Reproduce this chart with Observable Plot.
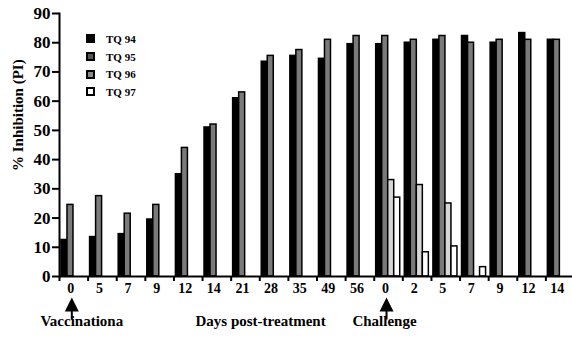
<!DOCTYPE html>
<html><head><meta charset="utf-8">
<script src="https://cdn.jsdelivr.net/npm/d3@7"></script>
<script src="https://cdn.jsdelivr.net/npm/@observablehq/plot@0.6"></script>
<style>
body{margin:0;background:#fff;}
#wrap{position:relative;width:572px;height:339px;overflow:hidden;font-family:"Liberation Serif","DejaVu Serif","Times New Roman",serif;font-weight:bold;color:#000;}
#wrap svg, #wrap svg text{font-family:"Liberation Serif","DejaVu Serif","Times New Roman",serif;}
#legend{position:absolute;left:86px;top:30px;}
.item{display:flex;align-items:center;height:17.7px;font-size:11px;}
.sw{width:9px;height:9px;box-sizing:border-box;border:2px solid #000;margin-right:11px;}
</style></head><body><div id="wrap"></div>
<script>
const series = ["TQ 94", "TQ 95", "TQ 96", "TQ 97"];
const dayLabels = ["0","5","7","9","12","14","21","28","35","49","56","0","2","5","7","9","12","14"];
const tq94 = [12.5, 13.5, 14.5, 19.5, 35, 51, 61, 73.5, 75.5, 74.5, 79.5, 79.5, 80, 81, 82.3, 80, 83.3, 81];
const tq95 = [24.5, 27.5, 21.5, 24.5, 44, 52, 63, 75.5, 77.5, 81, 82.3, 82.3, 81, 82.3, 80, 81, 81, 81];
const tq96 = [null, null, null, null, null, null, null, null, null, null, null, 33, 31.3, 25, null, null, null, null];
const tq97 = [null, null, null, null, null, null, null, null, null, null, null, 27, 8.3, 10.3, 3.2, null, null, null];
const seriesColors = ["#000000", "#7a7a7a", "#d6d6d6", "#ffffff"];
const legendColors = ["#000000", "#555555", "#8a8a8a", "#ffffff"];
const yTicks = [0, 10, 20, 30, 40, 50, 60, 70, 80, 90];
const yTitle = "% Inhibition (PI)";
const vaccinationGroup = 0, vaccinationText = "Vaccinationa";
const challengeGroup = 11, challengeText = "Challenge";
const daysGroup = 7, daysText = "Days post-treatment";

const values = [tq94, tq95, tq96, tq97];
const rows = [];
dayLabels.forEach((d, g) => series.forEach((s, k) => {
  const v = values[k][g];
  if (v != null) rows.push({g, series: s, value: v});
}));

const W = 572, H = 339, mL = 59, mR = -2, mT = 13, mB = 63;
const step = (W - mL - mR) / dayLabels.length;
const FONT = "'Liberation Serif', 'DejaVu Serif', 'Times New Roman', serif";

const arrowSymbol = {
  draw(ctx) {
    ctx.moveTo(0, -7);
    ctx.lineTo(7, 7);
    ctx.lineTo(1, 7);
    ctx.lineTo(1, 15);
    ctx.lineTo(-1, 15);
    ctx.lineTo(-1, 7);
    ctx.lineTo(-7, 7);
    ctx.closePath();
  }
};

const chart = Plot.plot({
  width: W, height: H,
  marginLeft: mL, marginRight: mR, marginTop: mT, marginBottom: mB,
  style: {fontFamily: FONT, fontWeight: "bold", color: "#000", background: "#fff", overflow: "visible"},
  fx: {domain: d3.range(dayLabels.length), paddingInner: 0, paddingOuter: 0, round: false, label: null},
  x: {domain: series, paddingInner: 0, paddingOuter: 0.38, align: 0.43, round: false, axis: null},
  y: {domain: [0, 90], label: null},
  color: {domain: series, range: seriesColors},
  marks: [
    Plot.barY(rows, {fx: "g", x: "series", y: "value", fill: "series", stroke: "#000", strokeWidth: 1.5}),
    Plot.ruleY([0], {strokeWidth: 2}),
    Plot.axisY({ticks: yTicks, tickSize: 7, tickPadding: 2, fontSize: 17, fontFamily: FONT, strokeWidth: 2, label: null}),
    Plot.axisFx({anchor: "bottom", tickSize: 0, tickPadding: 7, fontSize: 14, fontFamily: FONT, tickFormat: (i) => dayLabels[i], label: null, dx: -3}),
    Plot.axisFx({anchor: "bottom", tickSize: 5, strokeWidth: 2, tickFormat: () => "", label: null, dx: -step / 2}),
    Plot.frame({anchor: "left", facet: "super", strokeWidth: 2}),
    Plot.text([yTitle], {facet: "super", frameAnchor: "left", rotate: -90, dx: -41, dy: 26, fontSize: 15, fontFamily: FONT}),
    Plot.dot([vaccinationGroup, challengeGroup], {fx: (d) => d, frameAnchor: "bottom", dy: 28, dx: -2, r: 7, symbol: arrowSymbol, fill: "#000", stroke: "none"}),
    Plot.text([vaccinationText], {fx: () => vaccinationGroup, text: (d) => d, frameAnchor: "bottom", dy: 49, dx: 8, fontSize: 15, fontFamily: FONT}),
    Plot.text([challengeText], {fx: () => challengeGroup, text: (d) => d, frameAnchor: "bottom", dy: 49, dx: -4, fontSize: 15, fontFamily: FONT}),
    Plot.text([daysText], {fx: () => daysGroup, text: (d) => d, frameAnchor: "bottom", dy: 49, dx: -13.5, fontSize: 15, fontFamily: FONT})
  ]
});

const wrap = document.getElementById("wrap");
wrap.appendChild(chart);
const legend = document.createElement("div");
legend.id = "legend";
series.forEach((s, k) => {
  const item = document.createElement("div");
  item.className = "item";
  const sw = document.createElement("div");
  sw.className = "sw";
  sw.style.background = legendColors[k];
  const t = document.createElement("span");
  t.textContent = s;
  item.appendChild(sw);
  item.appendChild(t);
  legend.appendChild(item);
});
wrap.appendChild(legend);
</script></body></html>
